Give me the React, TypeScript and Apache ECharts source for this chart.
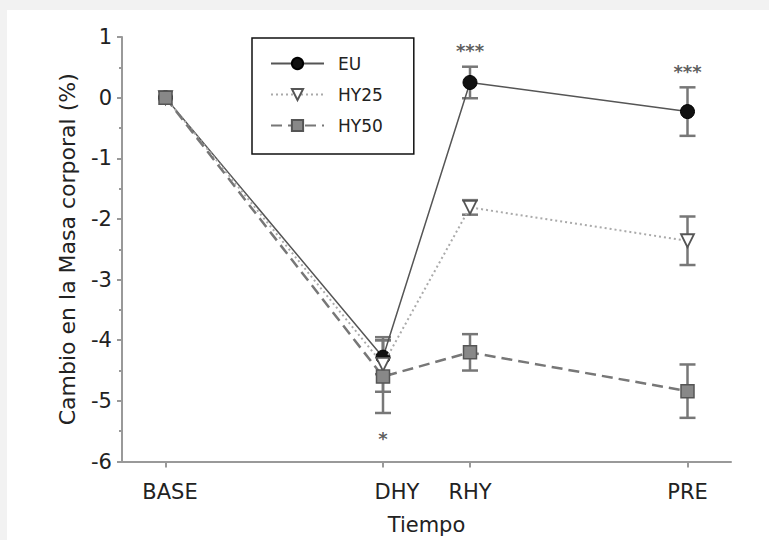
import React, { useEffect, useRef } from "react";
import * as echarts from "echarts";

const categories = ["BASE", "DHY", "RHY", "PRE"];
const timePositions = [0, 5, 7, 12];
const euValues = [0, -4.28, 0.25, -0.23];
const euErrors = [0, 0.28, 0.26, 0.4];
const hy25Values = [0, -4.4, -1.81, -2.36];
const hy25Errors = [0, 0.45, 0.12, 0.4];
const hy50Values = [0, -4.6, -4.2, -4.84];
const hy50Errors = [0, 0.6, 0.3, 0.44];
const annotationX = [7, 12, 5];
const annotationY = [0.85, 0.5, -5.56];
const annotationText = ["***", "***", "*"];

const FONT = "DejaVu Sans";

function errorSeries(name: string, values: number[], errors: number[]) {
  return {
    type: "custom",
    name,
    z: 1,
    silent: true,
    encode: { x: 0, y: [1, 2] },
    data: timePositions.map((x, i) => [x, values[i] - errors[i], values[i] + errors[i]]),
    renderItem: (_params: any, api: any) => {
      const lo = api.coord([api.value(0), api.value(1)]);
      const hi = api.coord([api.value(0), api.value(2)]);
      if (Math.abs(lo[1] - hi[1]) < 1) return { type: "group", children: [] };
      const hw = 8;
      const style = { stroke: "#777", lineWidth: 2.5 };
      return {
        type: "group",
        children: [
          { type: "line", shape: { x1: lo[0], y1: lo[1], x2: hi[0], y2: hi[1] }, style },
          { type: "line", shape: { x1: lo[0] - hw, y1: lo[1], x2: lo[0] + hw, y2: lo[1] }, style },
          { type: "line", shape: { x1: hi[0] - hw, y1: hi[1], x2: hi[0] + hw, y2: hi[1] }, style },
        ],
      };
    },
  };
}

export default function App() {
  const ref = useRef<HTMLDivElement>(null);
  useEffect(() => {
    if (!ref.current) return;
    const chart = echarts.init(ref.current, undefined, { renderer: "svg" });
    const axisColor = "#999";
    const labelStyle = { fontFamily: FONT, fontSize: 21, color: "#222" };
    chart.setOption({
      animation: false,
      backgroundColor: "#f2f2f2",
      graphic: [
        {
          type: "rect",
          left: 7,
          top: 10,
          z: -10,
          silent: true,
          shape: { width: 762, height: 530 },
          style: { fill: "#fff" },
        },
      ],
      grid: {
        left: 122,
        right: 38,
        top: 37,
        bottom: 78.5,
        containLabel: false,
        outerBoundsMode: "none",
      },
      legend: {
        data: ["EU", "HY25", "HY50"],
        orient: "vertical",
        left: 252,
        top: 38,
        itemWidth: 53,
        itemHeight: 14,
        itemGap: 14,
        padding: [17, 31, 20, 18],
        borderColor: "#111",
        borderWidth: 1.5,
        backgroundColor: "#fff",
        selectedMode: false,
        textStyle: { fontFamily: FONT, fontSize: 17, color: "#222", padding: [0, 0, 0, 9] },
      },
      xAxis: {
        type: "value",
        min: -1,
        max: 13,
        interval: 1,
        axisLine: { show: true, onZero: false, lineStyle: { color: axisColor, width: 2 } },
        axisTick: { show: true, length: 6, customValues: timePositions, lineStyle: { color: axisColor, width: 2 } },
        axisLabel: {
          customValues: timePositions,
          formatter: (v: number) => {
            const i = timePositions.indexOf(v);
            if (i < 0) return "";
            if (i === 0) return "{b|" + categories[i] + "}";
            if (i === 1) return "{d|" + categories[i] + "}";
            return categories[i];
          },
          rich: {
            b: { ...labelStyle, padding: [0, 0, 0, 9] },
            d: { ...labelStyle, padding: [0, 0, 0, 28] },
          },
          margin: 20,
          ...labelStyle,
        },
        splitLine: { show: false },
        name: "Tiempo",
        nameLocation: "middle",
        nameGap: 53,
        nameTextStyle: labelStyle,
      },
      yAxis: {
        type: "value",
        min: -6,
        max: 1,
        interval: 1,
        axisLine: { show: true, onZero: false, lineStyle: { color: axisColor, width: 2 } },
        axisTick: { show: true, length: 5, lineStyle: { color: axisColor, width: 2 } },
        minorTick: { show: true, splitNumber: 2, length: 3, lineStyle: { color: axisColor, width: 2 } },
        axisLabel: { margin: 10, ...labelStyle },
        splitLine: { show: false },
        name: "Cambio en la Masa corporal (%)",
        nameLocation: "middle",
        nameGap: 44,
        nameTextStyle: { fontFamily: FONT, fontSize: 22, color: "#222" },
      },
      series: [
        errorSeries("EU err", euValues, euErrors),
        errorSeries("HY25 err", hy25Values, hy25Errors),
        errorSeries("HY50 err", hy50Values, hy50Errors),
        {
          type: "line",
          name: "EU",
          z: 3,
          data: timePositions.map((x, i) => [x, euValues[i]]),
          symbol: "circle",
          symbolSize: 14,
          itemStyle: { color: "#111", borderColor: "#000", borderWidth: 1 },
          lineStyle: { color: "#555", width: 1.5 },
        },
        {
          type: "line",
          name: "HY25",
          z: 4,
          data: timePositions.map((x, i) => [x, hy25Values[i]]),
          symbol: "triangle",
          symbolRotate: 180,
          symbolSize: 13,
          itemStyle: { color: "#fff", borderColor: "#555", borderWidth: 1.8 },
          lineStyle: { color: "#aaa", width: 2, type: [2, 3] },
        },
        {
          type: "line",
          name: "HY50",
          z: 5,
          data: timePositions.map((x, i) => [x, hy50Values[i]]),
          symbol: "rect",
          symbolSize: 13,
          itemStyle: { color: "#888", borderColor: "#555", borderWidth: 1.5 },
          lineStyle: { color: "#777", width: 2.5, type: [11, 6] },
        },
        {
          type: "scatter",
          name: "sig",
          z: 6,
          silent: true,
          symbolSize: 1,
          itemStyle: { color: "rgba(0,0,0,0)" },
          data: annotationX.map((x, i) => [x, annotationY[i], annotationText[i]]),
          label: {
            show: true,
            position: "inside",
            offset: [0, 4],
            formatter: (p: any) => p.value[2],
            fontFamily: FONT,
            fontSize: 18,
            fontWeight: "bold",
            color: "#333",
          },
        },
      ],
    });
    return () => chart.dispose();
  }, []);
  return (
    <div
      ref={ref}
      style={{ position: "absolute", left: 0, top: 0, width: 769, height: 540 }}
    />
  );
}
